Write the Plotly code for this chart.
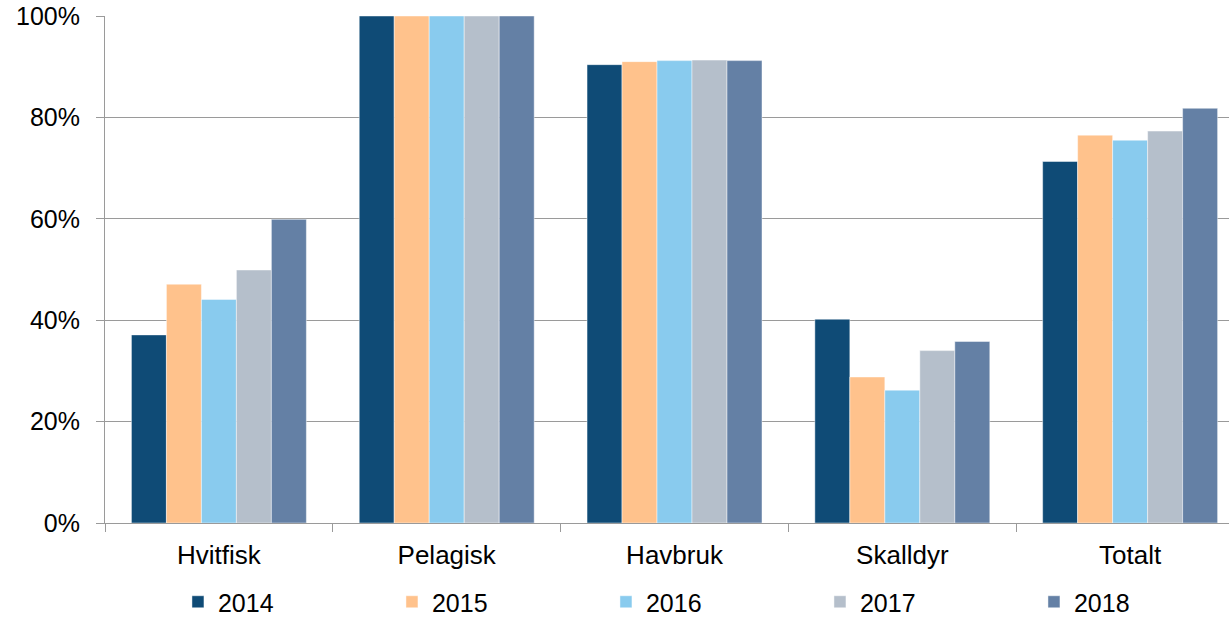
import plotly.graph_objects as go

categories = ["Hvitfisk", "Pelagisk", "Havbruk", "Skalldyr", "Totalt"]
years = ["2014", "2015", "2016", "2017", "2018"]
v2014 = [37.1, 100, 90.4, 40.2, 71.3]
v2015 = [47.1, 100, 91.0, 28.8, 76.5]
v2016 = [44.1, 100, 91.2, 26.2, 75.5]
v2017 = [49.9, 100, 91.3, 34.0, 77.3]
v2018 = [59.9, 100, 91.2, 35.8, 81.8]
colors = ["#0F4B76", "#FFC28C", "#89CBEE", "#B5BFCB", "#6480A5"]

series = [v2014, v2015, v2016, v2017, v2018]
FONT = "Liberation Sans, Arial, sans-serif"

fig = go.Figure()
for name, vals, col in zip(years, series, colors):
    fig.add_trace(go.Bar(
        x=categories, y=vals, name=name,
        marker=dict(color=col, line=dict(color="rgba(255,255,255,0.45)", width=1)),
    ))

fig.update_layout(
    width=1229, height=617,
    margin=dict(l=105, r=0, t=16, b=94),
    paper_bgcolor="white", plot_bgcolor="white",
    barmode="group", bargap=0.232, bargroupgap=0,
    font=dict(family=FONT, size=26, color="#000000"),
    showlegend=True,
    legend=dict(orientation="h", xref="container", x=0.1448, xanchor="left",
                yref="container", y=0.0243, yanchor="middle",
                entrywidth=169, font=dict(size=25), itemclick=False, traceorder="normal"),
    xaxis=dict(type="category", range=[-0.5, 4.434], showline=True, linecolor="#9A9A9A",
               linewidth=1, ticks="outside", tickson="boundaries", ticklen=8,
               tickcolor="#9A9A9A", showgrid=False, tickfont=dict(size=26),
               ticklabelstandoff=9, automargin=False),
    yaxis=dict(range=[0, 100], tickvals=[0, 20, 40, 60, 80, 100],
               ticktext=["0%", "20%", "40%", "60%", "80%", "100%"],
               showline=True, linecolor="#9A9A9A", linewidth=1, ticks="outside",
               ticklen=8, tickcolor="#9A9A9A", showgrid=True, gridcolor="#9A9A9A",
               gridwidth=1, zeroline=False, tickfont=dict(size=25), ticklabelstandoff=11,
               ticklabeloverflow="allow", automargin=False),
)

fig.write_html("out.html", config={"displayModeBar": False},
               post_script="document.body.style.margin='0';document.body.style.overflow='hidden';")
